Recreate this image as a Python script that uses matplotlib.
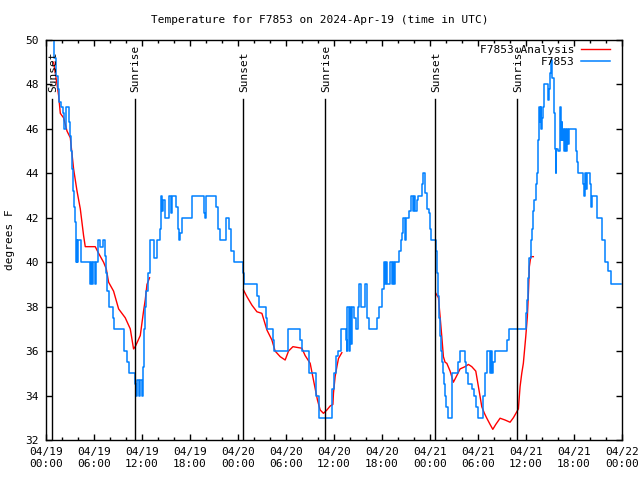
# temperature plot for station F7853, gnuplot look
import numpy as np
import matplotlib
matplotlib.use("Agg")
import matplotlib.pyplot as plt

# observed temperature (hours since 04/19 00:00 UTC, deg F), drawn as steps
obs_hours = [0.83, 0.95, 1.25, 1.45, 1.66, 1.88, 2.08, 2.23, 2.50, 2.83, 3.04, 3.16, 3.29, 3.41,
             3.54, 3.66, 3.76, 3.85, 3.91, 4.00, 4.35, 5.54, 5.66, 5.79, 5.91, 6.10, 6.23, 6.45,
             6.79, 7.08, 7.33, 7.48, 7.66, 7.83, 8.38, 8.45, 9.79, 10.13, 10.33, 11.08, 11.23,
             11.41, 11.60, 11.79, 12.00, 12.10, 12.20, 12.35, 12.54, 12.73, 13.04, 13.54, 13.88,
             14.20, 14.38, 14.48, 14.58, 14.83, 15.33, 15.63, 15.79, 16.25, 16.45, 16.60, 16.79,
             17.00, 18.25, 19.70, 19.85, 20.04, 21.29, 21.45, 21.70, 22.54, 22.91, 23.16, 23.45,
             24.70, 24.79, 26.45, 26.70, 27.50, 27.70, 28.33, 28.54, 30.25, 31.79, 32.00, 32.95,
             33.79, 34.20, 35.83, 36.04, 36.29, 36.58, 36.91, 37.50, 37.60, 37.70, 37.85, 37.98,
             38.10, 38.25, 38.48, 38.75, 39.08, 39.20, 39.41, 39.91, 40.20, 40.45, 41.45, 41.70,
             42.00, 42.29, 42.41, 42.54, 42.66, 43.04, 43.23, 43.41, 43.54, 43.66, 44.16, 44.35,
             44.48, 44.70, 44.85, 45.04, 45.35, 45.66, 45.85, 45.98, 46.16, 46.35, 46.50, 47.00,
             47.20, 47.41, 47.66, 47.91, 48.04, 48.16, 48.75, 48.85, 48.98, 49.10, 49.23, 49.35,
             49.48, 49.60, 49.73, 49.85, 50.04, 50.25, 50.83, 51.58, 51.79, 52.41, 52.54, 52.79,
             53.25, 53.48, 53.73, 54.00, 54.70, 54.91, 55.13, 55.54, 55.66, 55.79, 55.88, 56.16,
             57.70, 57.85, 60.00, 60.13, 60.25, 60.41, 60.60, 60.75, 60.91, 61.04, 61.23, 61.38,
             61.50, 61.58, 61.66, 61.79, 61.88, 61.94, 62.00, 62.16, 62.33, 62.83, 62.91, 63.04,
             63.16, 63.33, 63.58, 63.66, 63.75, 63.83, 64.00, 64.33, 64.41, 64.50, 64.58, 64.66,
             64.79, 64.91, 65.04, 65.16, 65.29, 65.41, 66.25, 66.35, 66.50, 67.20, 67.29, 67.41,
             67.54, 67.63, 68.04, 68.16, 68.33, 68.95, 69.50, 69.91, 70.33, 70.66, 71.85]
obs_temp = [50.3, 49.2, 48.4, 47.8, 47.2, 47.0, 46.7, 46.0, 47.0, 46.3, 45.7, 45.0, 44.2, 43.2,
            42.5, 41.8, 40.0, 41.0, 40.0, 41.0, 40.0, 39.0, 40.0, 39.0, 40.0, 39.0, 40.0, 41.0,
            40.7, 41.0, 40.3, 39.5, 38.7, 38.0, 37.5, 37.0, 36.0, 35.5, 35.0, 34.5, 34.0,
            34.7, 34.0, 34.7, 34.0, 35.3, 37.0, 38.0, 38.7, 39.5, 41.0, 40.2, 41.0,
            41.5, 43.0, 42.3, 42.8, 42.0, 43.0, 42.2, 43.0, 42.5, 41.5, 41.0, 41.3,
            42.0, 43.0, 42.2, 42.0, 43.0, 42.5, 41.5, 41.0, 42.0, 41.5, 40.5, 40.0,
            39.5, 39.0, 38.5, 38.0, 37.5, 37.0, 36.5, 36.0, 37.0, 36.5, 36.0, 35.0,
            34.0, 33.0, 34.3, 35.0, 35.8, 36.0, 37.0, 36.5, 36.0, 38.0, 36.0, 38.0,
            36.3, 38.0, 37.5, 37.0, 38.0, 39.0, 38.0, 39.0, 37.5, 37.0, 37.5, 38.0,
            38.8, 40.0, 39.0, 40.0, 39.0, 40.0, 39.0, 40.0, 39.0, 40.0, 40.5, 41.0,
            41.3, 42.0, 41.0, 42.0, 42.3, 43.0, 42.3, 43.0, 42.3, 42.8, 43.0, 43.5,
            44.0, 43.1, 42.4, 42.2, 41.5, 41.0, 40.5, 39.5, 38.5, 37.5, 36.7, 36.0,
            35.5, 35.0, 34.5, 34.0, 33.5, 33.0, 35.0, 35.5, 36.0, 35.5, 35.0, 34.5,
            34.3, 34.0, 33.5, 33.0, 34.0, 35.0, 36.0, 35.0, 36.0, 35.0, 35.5, 36.0,
            36.5, 37.0, 37.7, 38.3, 39.3, 40.2, 41.0, 41.5, 42.3, 42.8, 43.5, 44.0,
            44.8, 45.5, 47.0, 46.3, 47.0, 46.0, 46.5, 47.0, 48.0, 47.3, 47.8, 48.5,
            49.1, 48.3, 46.7, 45.1, 44.0, 45.1, 45.0, 47.0, 45.5, 46.3, 45.5, 46.0,
            45.0, 46.0, 45.0, 46.0, 45.3, 46.0, 45.0, 44.5, 44.0, 43.5, 43.0, 44.0,
            43.3, 44.0, 43.5, 42.5, 43.0, 42.0, 41.0, 40.0, 39.6, 39.0, 39.0]

# analysis, one piece per night
ana1_hours = [0.95, 1.08, 1.38, 1.58, 1.79, 2.20, 2.63, 3.04, 3.45, 3.88, 4.29, 4.70, 4.91, 6.16,
              6.58, 7.20, 7.54, 7.83, 8.45, 9.08, 9.91, 10.54, 10.95, 11.16, 11.79, 12.20, 12.41,
              12.63, 12.95]
ana1_temp = [49.0, 48.7, 48.0, 47.5, 46.7, 46.5, 45.9, 45.6, 44.2, 43.2, 42.4, 41.2, 40.7, 40.7,
             40.4, 40.0, 39.7, 39.1, 38.7, 37.9, 37.5, 37.0, 36.1, 36.2, 36.7, 37.8, 38.3,
             39.0, 39.3]
ana2_hours = [24.70, 25.13, 25.75, 26.38, 27.00, 27.63, 28.25, 28.66, 29.29, 29.91, 30.33, 30.88,
              32.00, 32.41, 33.04, 33.45, 33.95, 34.29, 34.70, 35.13, 35.54, 35.88, 35.95, 36.16,
              36.38, 36.58, 37.00]
ana2_temp = [38.75, 38.45, 38.07, 37.77, 37.7, 36.95, 36.5, 36.0, 35.75, 35.6, 36.0, 36.2,
             36.13, 35.8, 35.45, 34.7, 33.8, 33.35, 33.2, 33.35, 33.53, 33.6, 34.1, 34.85,
             35.3, 35.67, 35.93]
ana3_hours = [48.75, 49.08, 49.29, 49.50, 49.70, 49.91, 50.13, 50.54, 50.95, 51.38, 51.79, 52.41,
              52.83, 53.25, 53.75, 54.08, 54.50, 54.83, 55.13, 55.54, 55.88, 56.25, 56.79, 57.41,
              58.04, 58.45, 58.88, 59.08, 59.29, 59.50, 59.70, 60.00, 60.20, 60.33, 60.45, 60.63,
              60.95]
ana3_temp = [38.6, 38.4, 37.55, 36.65, 35.75, 35.5, 35.45, 35.1, 34.6, 34.9, 35.2, 35.3,
             35.4, 35.3, 35.1, 34.4, 33.5, 33.2, 32.98, 32.7, 32.48, 32.7, 32.98, 32.9,
             32.8, 33.0, 33.27, 33.4, 34.4, 35.0, 35.45, 36.65, 37.55, 38.6, 39.8, 40.25,
             40.25]

# sunrise / sunset markers
event_hours = [0.75, 11.08, 24.70, 34.95, 48.70, 58.95]
event_names = ["Sunset", "Sunrise", "Sunset", "Sunrise", "Sunset", "Sunrise"]

tick_hours = list(range(0, 73, 6))
tick_labels = ["04/19\n00:00", "04/19\n06:00", "04/19\n12:00", "04/19\n18:00",
               "04/20\n00:00", "04/20\n06:00", "04/20\n12:00", "04/20\n18:00",
               "04/21\n00:00", "04/21\n06:00", "04/21\n12:00", "04/21\n18:00",
               "04/22\n00:00"]

plt.rcParams['font.family'] = 'DejaVu Sans Mono'
plt.rcParams['font.size'] = 8


def main():
    fig = plt.figure(figsize=(6.4, 4.8), dpi=100)
    ax = fig.add_axes([46 / 640, 40 / 480, 575.7 / 640, 400 / 480])

    # analysis first so it sits in the legend first
    ax.plot(ana1_hours, ana1_temp, color='red', lw=1.0, label='F7853 Analysis')
    ax.plot(ana2_hours, ana2_temp, color='red', lw=1.0)
    ax.plot(ana3_hours, ana3_temp, color='red', lw=1.0)
    ax.step(obs_hours, obs_temp, where='post', color='#0080ff', lw=1.1, label='F7853')

    for h, name in zip(event_hours, event_names):
        ax.plot([h, h], [32, 47.35], color='black', lw=1.0)
        ax.text(h + 0.1, 47.66, name, rotation=90, ha='center', va='bottom')

    ax.set_xlim(0, 72)
    ax.set_ylim(32, 50)
    ax.set_xticks(tick_hours)
    ax.set_xticklabels(tick_labels)
    ax.set_xticks(list(range(0, 73, 2)), minor=True)
    ax.set_yticks(list(range(32, 51, 2)))
    ax.tick_params(which='major', direction='in', length=4, width=1, top=True, right=True, pad=5)
    ax.tick_params(which='minor', direction='in', length=2, width=1, top=True, right=True)
    for s in ax.spines.values():
        s.set_linewidth(1.0)

    fig.text(0.5, 1 - 20 / 480, "Temperature for F7853 on 2024-Apr-19 (time in UTC)",
             ha='center', va='center')
    fig.text(10 / 640, 0.5, "degrees F", rotation=90, ha='center', va='center')

    ax.legend(loc='upper right', bbox_to_anchor=(610 / 640, 1 - 45 / 480),
              bbox_transform=fig.transFigure, frameon=False, markerfirst=False,
              handlelength=2.6, handletextpad=0.6, labelspacing=0.15,
              borderpad=0, borderaxespad=0)

    fig.savefig("out.png", dpi=100)


if __name__ == "__main__":
    main()
